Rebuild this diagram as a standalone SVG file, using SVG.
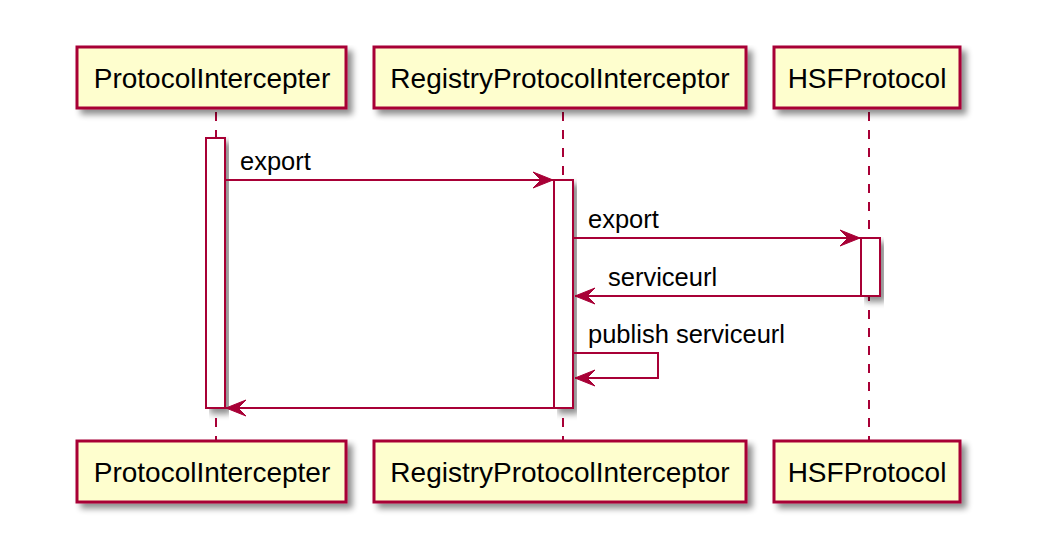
<svg xmlns="http://www.w3.org/2000/svg" width="1042" height="538" viewBox="0 0 1042 538">
<defs>
<filter id="sh" x="-10%" y="-10%" width="130%" height="140%">
<feGaussianBlur in="SourceAlpha" stdDeviation="3"/>
<feOffset dx="5" dy="5" result="b"/>
<feComponentTransfer><feFuncA type="linear" slope="0.45"/></feComponentTransfer>
<feMerge><feMergeNode/><feMergeNode in="SourceGraphic"/></feMerge>
</filter>
<marker id="ah" viewBox="0 0 22 18" refX="21" refY="9" markerWidth="22" markerHeight="18" markerUnits="userSpaceOnUse" orient="auto">
<polygon points="21,9 1,1 9,9 1,17" fill="#A80036" stroke="#A80036" stroke-width="1" stroke-linejoin="miter"/>
</marker>
</defs>
<style>
.box{fill:#FEFECE;stroke:#A80036;stroke-width:3}
.act{fill:#FFFFFF;stroke:#A80036;stroke-width:2}
.life{stroke:#A80036;stroke-width:2;stroke-dasharray:9,9;fill:none}
.msg{stroke:#A80036;stroke-width:2;fill:none;marker-end:url(#ah)}
.t{font-family:"Liberation Sans",Arial,sans-serif;font-size:28px;fill:#000000}
.m{font-family:"Liberation Sans",Arial,sans-serif;font-size:25.5px;fill:#000000}
</style>
<rect width="1042" height="538" fill="#FFFFFF"/>
<g id="lifelines">
<line class="life" x1="216" y1="112" x2="216" y2="441"/>
<line class="life" x1="563" y1="112" x2="563" y2="441"/>
<line class="life" x1="869" y1="112" x2="869" y2="441"/>
</g>
<g id="activations">
<rect class="act" x="206" y="138" width="19" height="270" filter="url(#sh)"/>
<rect class="act" x="554" y="180" width="19" height="228" filter="url(#sh)"/>
<rect class="act" x="861" y="238" width="19" height="58" filter="url(#sh)"/>
</g>
<g id="ProtocolIntercepter">
<rect class="box" x="77" y="47" width="269" height="61" filter="url(#sh)"/>
<text class="t" x="212" y="88" text-anchor="middle">ProtocolIntercepter</text>
</g>
<g id="RegistryProtocolInterceptor">
<rect class="box" x="374" y="47" width="372" height="61" filter="url(#sh)"/>
<text class="t" x="560" y="88" text-anchor="middle">RegistryProtocolInterceptor</text>
</g>
<g id="HSFProtocol">
<rect class="box" x="774" y="47" width="186" height="61" filter="url(#sh)"/>
<text class="t" x="867" y="88" text-anchor="middle">HSFProtocol</text>
</g>
<g id="ProtocolIntercepter-bottom">
<rect class="box" x="77" y="441" width="269" height="61" filter="url(#sh)"/>
<text class="t" x="212" y="482" text-anchor="middle">ProtocolIntercepter</text>
</g>
<g id="RegistryProtocolInterceptor-bottom">
<rect class="box" x="374" y="441" width="372" height="61" filter="url(#sh)"/>
<text class="t" x="560" y="482" text-anchor="middle">RegistryProtocolInterceptor</text>
</g>
<g id="HSFProtocol-bottom">
<rect class="box" x="774" y="441" width="186" height="61" filter="url(#sh)"/>
<text class="t" x="867" y="482" text-anchor="middle">HSFProtocol</text>
</g>
<g id="connectors">
<line class="msg" x1="226" y1="180" x2="553" y2="180"/>
<text class="m" x="240" y="170">export</text>
<line class="msg" x1="574" y1="238" x2="860" y2="238"/>
<text class="m" x="588" y="228">export</text>
<line class="msg" x1="860" y1="296" x2="575" y2="296"/>
<text class="m" x="608" y="286">serviceurl</text>
<polyline class="msg" points="574,353 658,353 658,378 575,378"/>
<text class="m" x="588" y="343">publish serviceurl</text>
<line class="msg" x1="554" y1="408" x2="226" y2="408"/>
</g>
</svg>
